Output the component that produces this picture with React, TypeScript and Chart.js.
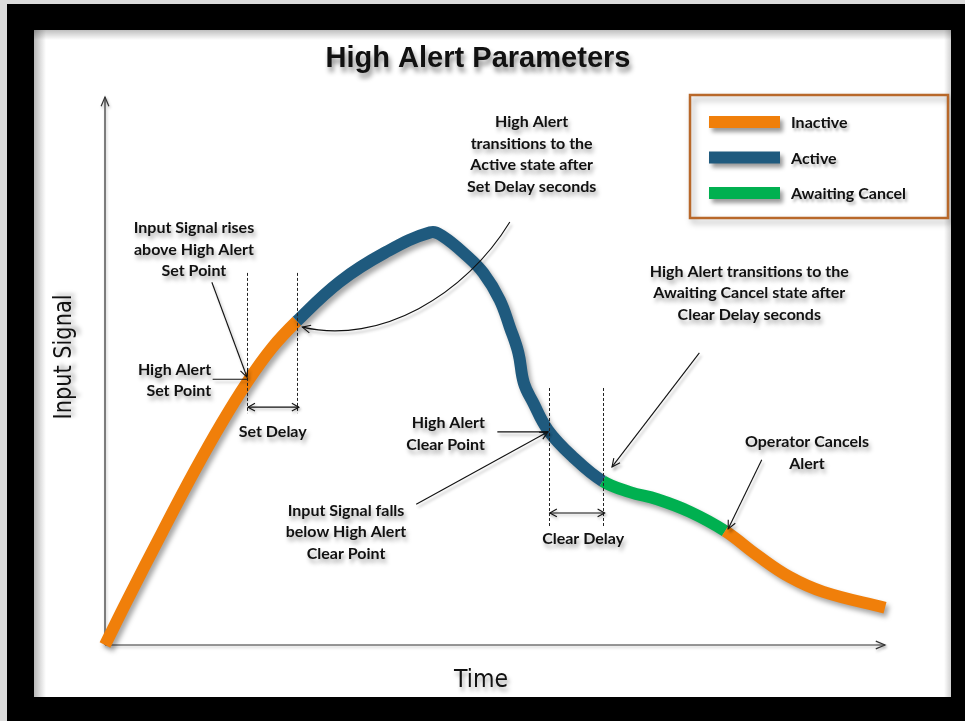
import React, { useEffect, useRef } from "react";
import { Chart, registerables } from "chart.js";
Chart.register(...registerables);

// ---- Data (time units 0..100, signal units 0..100) ----
const timeValues = [0, 2.9, 7.3, 11.5, 15.0, 18.2, 21.4, 24.6, 30.1, 35.9, 41.7, 43.3, 46.4, 48.5, 50.6, 51.9, 53.0, 53.7, 54.9, 56.8, 60.0, 63.8, 67.3, 70.8, 75.0, 79.5, 83.6, 87.8, 92.1, 100];
const signalValues = [0, 8.3, 20.5, 31.8, 40.6, 47.9, 54.2, 59.1, 66.3, 71.6, 75.3, 74.6, 71.0, 67.9, 63.0, 58.0, 53.3, 47.8, 44.2, 39.2, 34.3, 29.9, 27.9, 26.6, 24.3, 20.8, 16.4, 12.4, 9.7, 6.8];
// state of the segment starting at each point
const segmentStates = [
  "Inactive", "Inactive", "Inactive", "Inactive", "Inactive", "Inactive", "Inactive",
  "Active", "Active", "Active", "Active", "Active", "Active", "Active", "Active", "Active", "Active", "Active", "Active", "Active", "Active",
  "Awaiting Cancel", "Awaiting Cancel", "Awaiting Cancel", "Awaiting Cancel",
  "Inactive", "Inactive", "Inactive", "Inactive",
];
const legendLabels = ["Inactive", "Active", "Awaiting Cancel"];
const stateColors: Record<string, string> = {
  Inactive: "#f07f0a",
  Active: "#1f5a7e",
  "Awaiting Cancel": "#00b050",
};

const titleText = "High Alert Parameters";
const xAxisTitle = "Time";
const yAxisTitle = "Input Signal";

// annotation texts: anchor in data units (first line)
const noteTexts = [
  { lines: ["Input Signal rises", "above High Alert", "Set Point"], x: 11.4, y: 76.1, align: "center" },
  { lines: ["High Alert", "Set Point"], x: 13.6, y: 50.2, align: "right" },
  { lines: ["Set Delay"], x: 21.5, y: 38.9, align: "center" },
  { lines: ["High Alert", "transitions to the", "Active state after", "Set Delay seconds"], x: 54.7, y: 95.4, align: "center" },
  { lines: ["High Alert", "Clear Point"], x: 48.7, y: 40.5, align: "right" },
  { lines: ["Input Signal falls", "below High Alert", "Clear Point"], x: 30.9, y: 24.5, align: "center" },
  { lines: ["Clear Delay"], x: 61.3, y: 19.3, align: "center" },
  { lines: ["High Alert transitions to the", "Awaiting Cancel state after", "Clear Delay seconds"], x: 82.6, y: 68.1, align: "center" },
  { lines: ["Operator Cancels", "Alert"], x: 90.0, y: 37.0, align: "center" },
];

// straight pointer lines: [x0, y0, x1, y1, arrowhead at end]
const pointerLines: [number, number, number, number, boolean][] = [
  [13.7, 66.2, 18.2, 48.9, true],
  [13.8, 48.5, 18.2, 48.5, false],
  [50.3, 38.9, 56.8, 38.9, false],
  [39.9, 25.7, 56.8, 38.9, true],
  [76.2, 53.3, 65.0, 32.5, true],
  [84.2, 33.8, 79.9, 21.2, true],
];
// curved pointer: start, control1, control2, end
const curvedPointer = [51.9, 77.2, 46.2, 63.9, 35.3, 54.7, 25.3, 58.0];

// delay markers
const delayStarts = [18.2, 56.9];
const delayEnds = [24.6, 63.8];
const delayTops = [67.9, 46.9];
const delayBottoms = [42.3, 21.4];
const delayArrowLevels = [43.4, 24.1];

const NOTE_FONT = 'bold 16px "Lato", "Open Sans", sans-serif';
const LINE_H = 21.4;

function fitText(ctx: CanvasRenderingContext2D, text: string, x: number, y: number, width: number) {
  const w = ctx.measureText(text).width;
  const sx = width / w;
  ctx.save();
  ctx.translate(x, y);
  ctx.scale(sx, 1);
  ctx.textAlign = "center";
  ctx.fillText(text, 0, 0);
  ctx.restore();
}

function arrowHead(ctx: CanvasRenderingContext2D, x: number, y: number, ang: number, len = 8, spread = 0.45) {
  ctx.beginPath();
  ctx.moveTo(x - len * Math.cos(ang - spread), y - len * Math.sin(ang - spread));
  ctx.lineTo(x, y);
  ctx.lineTo(x - len * Math.cos(ang + spread), y - len * Math.sin(ang + spread));
  ctx.stroke();
}

function setShadow(ctx: CanvasRenderingContext2D, a = 0.35, blur = 4, ox = 2, oy = 3) {
  ctx.shadowColor = `rgba(0,0,0,${a})`;
  ctx.shadowBlur = blur;
  ctx.shadowOffsetX = ox;
  ctx.shadowOffsetY = oy;
}
function noShadow(ctx: CanvasRenderingContext2D) {
  ctx.shadowColor = "rgba(0,0,0,0)";
  ctx.shadowBlur = 0;
  ctx.shadowOffsetX = 0;
  ctx.shadowOffsetY = 0;
}

const framePlugin = {
  id: "frame",
  beforeDraw(chart: any) {
    const ctx: CanvasRenderingContext2D = chart.ctx;
    const W = chart.width, H = chart.height;
    ctx.save();
    ctx.fillStyle = "#dcdcdc";
    ctx.fillRect(0, 0, W, H);
    ctx.fillStyle = "#000";
    ctx.fillRect(7, 4, W - 7, H - 4);
    ctx.fillStyle = "#fff";
    ctx.fillRect(34, 30, 917, 667);
    let g = ctx.createLinearGradient(34, 0, 46, 0);
    g.addColorStop(0, "rgba(0,0,0,0.28)");
    g.addColorStop(1, "rgba(0,0,0,0)");
    ctx.fillStyle = g;
    ctx.fillRect(34, 30, 12, 667);
    g = ctx.createLinearGradient(0, 30, 0, 40);
    g.addColorStop(0, "rgba(0,0,0,0.25)");
    g.addColorStop(1, "rgba(0,0,0,0)");
    ctx.fillStyle = g;
    ctx.fillRect(34, 30, 917, 10);
    g = ctx.createLinearGradient(951, 0, 944, 0);
    g.addColorStop(0, "rgba(0,0,0,0.18)");
    g.addColorStop(1, "rgba(0,0,0,0)");
    ctx.fillStyle = g;
    ctx.fillRect(944, 30, 7, 667);
    ctx.restore();

    const xs = chart.scales.x, ys = chart.scales.y;
    const x0 = xs.getPixelForValue(0), x1 = xs.getPixelForValue(100);
    const y0 = ys.getPixelForValue(0), y1 = ys.getPixelForValue(100);
    ctx.save();
    setShadow(ctx, 0.3, 3, 1, 2);
    ctx.strokeStyle = "#333";
    ctx.lineWidth = 1.2;
    ctx.beginPath();
    ctx.moveTo(x0, y0);
    ctx.lineTo(x0, y1);
    ctx.moveTo(x0, y0);
    ctx.lineTo(x1, y0);
    ctx.stroke();
    arrowHead(ctx, x0, y1, -Math.PI / 2, 10, 0.4);
    arrowHead(ctx, x1, y0, 0, 10, 0.4);

    // titles
    ctx.fillStyle = "#111";
    setShadow(ctx, 0.45, 5, 2, 5);
    ctx.font = 'bold 29px "Liberation Sans", "Arimo", sans-serif';
    ctx.textBaseline = "alphabetic";
    fitText(ctx, titleText, 478, 67, 305);
    setShadow(ctx, 0.35, 4, 2, 4);
    ctx.font = '25px "DejaVu Sans Condensed", "DejaVu Sans", sans-serif';
    fitText(ctx, xAxisTitle, 481, 687, 54);
    ctx.save();
    ctx.translate(71, 357);
    ctx.rotate(-Math.PI / 2);
    ctx.font = '24px "DejaVu Sans Condensed", "DejaVu Sans", sans-serif';
    setShadow(ctx, 0.35, 4, 4, -2);
    fitText(ctx, yAxisTitle, 0, 0, 125);
    ctx.restore();

    // legend box
    ctx.save();
    setShadow(ctx, 0.35, 6, 3, 4);
    ctx.strokeStyle = "#b8682a";
    ctx.lineWidth = 2.5;
    ctx.strokeRect(690, 95, 258, 123);
    ctx.restore();
    legendLabels.forEach((lab, i) => {
      const cy = 122 + i * 35.5;
      ctx.save();
      setShadow(ctx, 0.4, 4, 3, 4);
      ctx.fillStyle = stateColors[lab];
      ctx.fillRect(709, cy - 6, 71, 12);
      ctx.restore();
      ctx.save();
      setShadow(ctx, 0.3, 3, 2, 3);
      ctx.fillStyle = "#111";
      ctx.font = NOTE_FONT;
      ctx.textAlign = "left";
      ctx.textBaseline = "middle";
      ctx.fillText(lab, 791, cy + 1);
      ctx.restore();
    });
    ctx.restore();
  },
  beforeDatasetsDraw(chart: any) {
    const ctx: CanvasRenderingContext2D = chart.ctx;
    ctx.save();
    setShadow(ctx, 0.35, 5, 3, 4);
  },
  afterDatasetsDraw(chart: any) {
    const ctx: CanvasRenderingContext2D = chart.ctx;
    ctx.restore();
    const xs = chart.scales.x, ys = chart.scales.y;
    const px = (v: number) => xs.getPixelForValue(v);
    const py = (v: number) => ys.getPixelForValue(v);
    ctx.save();
    noShadow(ctx);
    for (let i = 0; i < delayStarts.length; i++) {
      ctx.save();
      ctx.strokeStyle = "#222";
      ctx.lineWidth = 1;
      ctx.setLineDash([3, 2]);
      ctx.beginPath();
      for (const t of [delayStarts[i], delayEnds[i]]) {
        ctx.moveTo(Math.round(px(t)) + 0.5, py(delayTops[i]));
        ctx.lineTo(Math.round(px(t)) + 0.5, py(delayBottoms[i]));
      }
      ctx.stroke();
      ctx.restore();
      ctx.save();
      setShadow(ctx, 0.3, 3, 1, 2);
      ctx.strokeStyle = "#111";
      ctx.lineWidth = 1.1;
      const ay = py(delayArrowLevels[i]);
      const a = px(delayStarts[i]) + 1, b = px(delayEnds[i]) + 2;
      ctx.beginPath();
      ctx.moveTo(a, ay);
      ctx.lineTo(b, ay);
      ctx.stroke();
      arrowHead(ctx, a, ay, Math.PI, 8, 0.5);
      arrowHead(ctx, b, ay, 0, 8, 0.5);
      ctx.restore();
    }
    ctx.save();
    setShadow(ctx, 0.3, 3, 2, 3);
    ctx.strokeStyle = "#111";
    ctx.lineWidth = 1.1;
    for (const [a, b, c, d, head] of pointerLines) {
      const X0 = px(a), Y0 = py(b), X1 = px(c), Y1 = py(d);
      ctx.beginPath();
      ctx.moveTo(X0, Y0);
      ctx.lineTo(X1, Y1);
      ctx.stroke();
      if (head) arrowHead(ctx, X1, Y1, Math.atan2(Y1 - Y0, X1 - X0), 9, 0.45);
    }
    const cp = curvedPointer;
    ctx.beginPath();
    ctx.moveTo(px(cp[0]), py(cp[1]));
    ctx.bezierCurveTo(px(cp[2]), py(cp[3]), px(cp[4]), py(cp[5]), px(cp[6]), py(cp[7]));
    ctx.stroke();
    arrowHead(ctx, px(cp[6]), py(cp[7]), Math.atan2(py(cp[7]) - py(cp[5]), px(cp[6]) - px(cp[4])), 9, 0.45);
    ctx.restore();

    ctx.save();
    setShadow(ctx, 0.35, 4, 2, 4);
    ctx.fillStyle = "#111";
    ctx.font = NOTE_FONT;
    ctx.textBaseline = "middle";
    for (const n of noteTexts) {
      ctx.textAlign = n.align as CanvasTextAlign;
      n.lines.forEach((ln, i) => ctx.fillText(ln, px(n.x), py(n.y) + i * LINE_H));
    }
    ctx.restore();
    ctx.restore();
  },
};

export default function App() {
  const ref = useRef<HTMLCanvasElement | null>(null);
  useEffect(() => {
    document.body.style.margin = "0";
    const cv = ref.current!;
    const points = timeValues.map((t, i) => ({ x: t, y: signalValues[i] }));
    const chart = new Chart(cv, {
      type: "line",
      data: {
        datasets: [
          {
            data: points,
            borderColor: stateColors.Inactive,
            borderWidth: 12,
            borderCapStyle: "butt",
            borderJoinStyle: "round",
            tension: 0.4,
            pointRadius: 0,
            fill: false,
            clip: false,
            segment: {
              borderColor: (c: any) => stateColors[segmentStates[c.p0DataIndex]],
            },
          } as any,
        ],
      },
      options: {
        responsive: false,
        animation: false,
        devicePixelRatio: 1,
        layout: { padding: { left: 105, right: 80, top: 97, bottom: 76 } },
        scales: {
          x: { type: "linear", min: 0, max: 100, display: false },
          y: { type: "linear", min: 0, max: 100, display: false },
        },
        plugins: { legend: { display: false }, tooltip: { enabled: false }, title: { display: false } },
        events: [],
      },
      plugins: [framePlugin],
    });
    return () => chart.destroy();
  }, []);
  return (
    <div style={{ width: 965, height: 721 }}>
      <canvas ref={ref} width={965} height={721} style={{ display: "block" }} />
    </div>
  );
}
